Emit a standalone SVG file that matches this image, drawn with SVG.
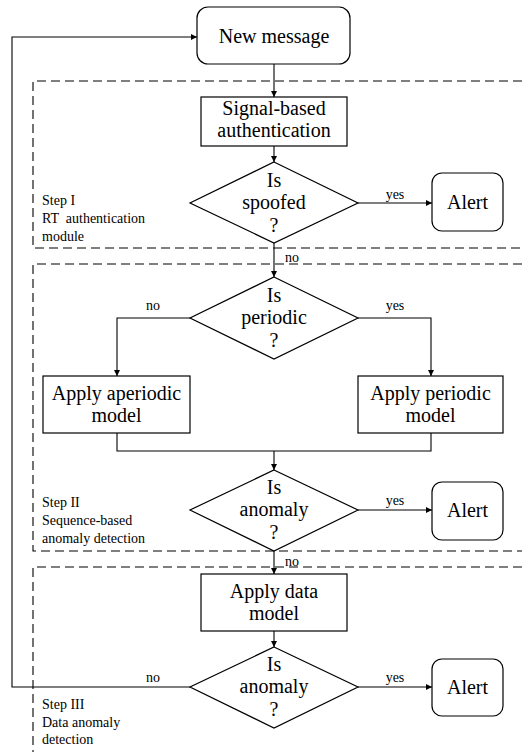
<svg xmlns="http://www.w3.org/2000/svg" width="522" height="752" viewBox="0 0 522 752">
<defs>
<marker id="ah" viewBox="0 0 10 10" refX="10" refY="5" markerWidth="7" markerHeight="6" markerUnits="userSpaceOnUse" orient="auto">
<path d="M0,0 L10,5 L0,10 z" fill="#000"/>
</marker>
<style>
.box{fill:#fff;stroke:#000;stroke-width:1.2}
.dash{fill:none;stroke:#000;stroke-width:1.1;stroke-dasharray:9 5}
.ln{fill:none;stroke:#000;stroke-width:1.1}
.arr{fill:none;stroke:#000;stroke-width:1.1;marker-end:url(#ah)}
.big{font-family:"Liberation Serif","Times New Roman",serif;font-size:20px;fill:#000;text-anchor:middle}
.sm{font-family:"Liberation Serif","Times New Roman",serif;font-size:14px;fill:#000}
</style>
</defs>
<rect width="522" height="752" fill="#fff"/>
<g id="regions">
<path class="dash" d="M522,81 H33 V248 H522"/>
<path class="dash" d="M522,264 H33 V551 H522"/>
<path class="dash" d="M522,567 H33 V752"/>
<text class="sm" x="42" y="205">Step I</text>
<text class="sm" x="42" y="223" xml:space="preserve">RT  authentication</text>
<text class="sm" x="42" y="241">module</text>
<text class="sm" x="42" y="507">Step II</text>
<text class="sm" x="42" y="525">Sequence-based</text>
<text class="sm" x="42" y="543">anomaly detection</text>
<text class="sm" x="42" y="709">Step III</text>
<text class="sm" x="42" y="727">Data anomaly</text>
<text class="sm" x="42" y="744">detection</text>
</g>
<g id="connectors">
<path class="arr" d="M274,64 V97"/>
<path class="arr" d="M274,146 V162"/>
<path class="arr" d="M358,203 H432"/>
<path class="arr" d="M274,243 V277"/>
<path class="arr" d="M190,318 H117 V376"/>
<path class="arr" d="M358,318 H431 V376"/>
<path class="ln" d="M117,433 V451 H431 V433"/>
<path class="arr" d="M274,451 V470"/>
<path class="arr" d="M358,510 H432"/>
<path class="arr" d="M274,551 V574"/>
<path class="arr" d="M274,631 V647"/>
<path class="arr" d="M358,687 H432"/>
<path class="arr" d="M190,687 H12 V37 H197"/>
<text class="sm" x="395" y="199" text-anchor="middle">yes</text>
<text class="sm" x="285" y="262">no</text>
<text class="sm" x="153" y="310" text-anchor="middle">no</text>
<text class="sm" x="395" y="310" text-anchor="middle">yes</text>
<text class="sm" x="395" y="505" text-anchor="middle">yes</text>
<text class="sm" x="285" y="566">no</text>
<text class="sm" x="153" y="682" text-anchor="middle">no</text>
<text class="sm" x="395" y="682" text-anchor="middle">yes</text>
</g>
<g id="new-message">
<rect class="box" x="197" y="7" width="153" height="57" rx="11"/>
<text class="big" x="274" y="43">New message</text>
</g>
<g id="signal-auth">
<rect class="box" x="201" y="97" width="146" height="49"/>
<text class="big" x="274" y="115">Signal-based</text>
<text class="big" x="274" y="137">authentication</text>
</g>
<g id="is-spoofed">
<polygon class="box" points="274,162 358,203 274,243 190,203"/>
<text class="big" x="274" y="187">Is</text>
<text class="big" x="274" y="209">spoofed</text>
<text class="big" x="274" y="232">?</text>
</g>
<g id="alert1">
<rect class="box" x="432" y="173" width="71" height="58" rx="10"/>
<text class="big" x="467.5" y="209">Alert</text>
</g>
<g id="is-periodic">
<polygon class="box" points="274,277 358,318 274,359 190,318"/>
<text class="big" x="274" y="302">Is</text>
<text class="big" x="274" y="324">periodic</text>
<text class="big" x="274" y="347">?</text>
</g>
<g id="aperiodic">
<rect class="box" x="43" y="376" width="147" height="57"/>
<text class="big" x="116.5" y="400">Apply aperiodic</text>
<text class="big" x="116.5" y="422">model</text>
</g>
<g id="periodic">
<rect class="box" x="358" y="376" width="145" height="57"/>
<text class="big" x="430.5" y="400">Apply periodic</text>
<text class="big" x="430.5" y="422">model</text>
</g>
<g id="is-anomaly1">
<polygon class="box" points="274,470 358,510 274,551 190,510"/>
<text class="big" x="274" y="494">Is</text>
<text class="big" x="274" y="516">anomaly</text>
<text class="big" x="274" y="539">?</text>
</g>
<g id="alert2">
<rect class="box" x="432" y="482" width="71" height="58" rx="10"/>
<text class="big" x="467.5" y="517">Alert</text>
</g>
<g id="data-model">
<rect class="box" x="201" y="574" width="146" height="57"/>
<text class="big" x="274" y="598">Apply data</text>
<text class="big" x="274" y="620">model</text>
</g>
<g id="is-anomaly2">
<polygon class="box" points="274,647 358,687 274,728 190,687"/>
<text class="big" x="274" y="671">Is</text>
<text class="big" x="274" y="693">anomaly</text>
<text class="big" x="274" y="716">?</text>
</g>
<g id="alert3">
<rect class="box" x="432" y="659" width="71" height="57" rx="10"/>
<text class="big" x="467.5" y="694">Alert</text>
</g>
</svg>
